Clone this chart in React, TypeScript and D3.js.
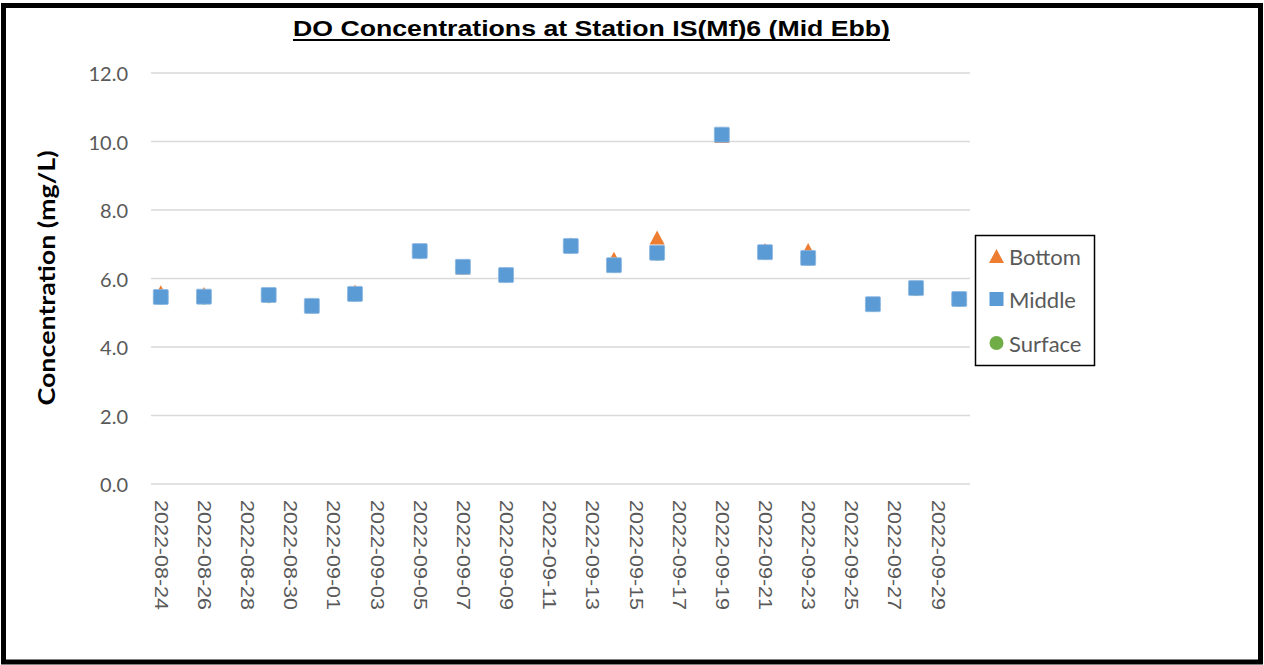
import React from "react";
import * as d3 from "d3";

const WIDTH = 1264;
const HEIGHT = 665;

const TITLE = "DO Concentrations at Station IS(Mf)6 (Mid Ebb)";
const Y_TITLE = "Concentration (mg/L)";

// sampling dates and the three depths (mg/L)
const dates = [
  "2022-08-24", "2022-08-26", "2022-08-29", "2022-08-31", "2022-09-02",
  "2022-09-05", "2022-09-07", "2022-09-09", "2022-09-12", "2022-09-14",
  "2022-09-16", "2022-09-19", "2022-09-21", "2022-09-23", "2022-09-26",
  "2022-09-28", "2022-09-30",
];
const bottom = [5.6, 5.55, 5.54, 5.22, 5.62, 6.83, 6.32, 6.13, 7.0, 6.58, 7.2, 10.16, 6.83, 6.83, 5.27, 5.75, 5.43];
const middle = [5.46, 5.47, 5.52, 5.2, 5.55, 6.8, 6.34, 6.1, 6.95, 6.39, 6.75, 10.2, 6.77, 6.6, 5.25, 5.72, 5.4];
const surface = [5.45, 5.46, 5.5, 5.2, 5.54, 6.79, 6.33, 6.1, 6.94, 6.38, 6.74, 10.19, 6.76, 6.59, 5.24, 5.71, 5.39];

const xTickLabels = [
  "2022-08-24", "2022-08-26", "2022-08-28", "2022-08-30", "2022-09-01",
  "2022-09-03", "2022-09-05", "2022-09-07", "2022-09-09", "2022-09-11",
  "2022-09-13", "2022-09-15", "2022-09-17", "2022-09-19", "2022-09-21",
  "2022-09-23", "2022-09-25", "2022-09-27", "2022-09-29",
];
const yTicks = [0, 2, 4, 6, 8, 10, 12];

const ORANGE = "#ED7D31";
const BLUE = "#5B9BD5";
const GREEN = "#70AD47";
const GREY = "#595959";

const parse = d3.utcParse("%Y-%m-%d");
const HALF_DAY = 12 * 3600 * 1000;

function triangle(cx: number, cy: number, w = 15, h = 14) {
  return `M${cx},${cy - h / 2}L${cx + w / 2},${cy + h / 2}L${cx - w / 2},${cy + h / 2}Z`;
}

export default function App() {
  const x = d3
    .scaleUtc()
    .domain([
      new Date(+parse("2022-08-24")! - HALF_DAY),
      new Date(+parse("2022-09-30")! + HALF_DAY),
    ])
    .range([150, 970]);
  const y = d3.scaleLinear().domain([0, 12]).range([484, 73]);

  const pts = dates.map((d, i) => ({
    x: x(parse(d)!),
    b: y(bottom[i]),
    m: y(middle[i]),
    s: y(surface[i]),
  }));

  const legend = [
    { name: "Bottom", yy: 256 },
    { name: "Middle", yy: 299 },
    { name: "Surface", yy: 343 },
  ];

  return (
    <div style={{ position: "absolute", left: 0, top: 0 }}>
      <svg width={WIDTH} height={HEIGHT} style={{ display: "block" }}>
        <rect x={0} y={0} width={WIDTH} height={HEIGHT} fill="#fff" />
        <rect x={3.5} y={5.5} width={1257} height={656.5} fill="none" stroke="#000" strokeWidth={5} />

        {/* title */}
        <text
          x={591.5}
          y={36}
          textAnchor="middle"
          fontFamily="'Liberation Sans', Arial, sans-serif"
          fontWeight="bold"
          fontSize={22}
          textLength={597}
          lengthAdjust="spacingAndGlyphs"
        >
          {TITLE}
        </text>
        <line x1={293} x2={890} y1={40} y2={40} stroke="#000" strokeWidth={2} />

        {/* grid */}
        {yTicks.map((t) => (
          <g key={t}>
            <line x1={151} x2={970} y1={y(t)} y2={y(t)} stroke="#d9d9d9" strokeWidth={1.5} />
            <text
              x={128}
              y={y(t)}
              textAnchor="end"
              dominantBaseline="central"
              fontFamily="Lato, 'Noto Sans', sans-serif"
              fontSize={20}
              fill={GREY}
            >
              {t.toFixed(1)}
            </text>
          </g>
        ))}

        {/* x labels */}
        {xTickLabels.map((l) => {
          const px = x(parse(l)!);
          return (
            <text
              key={l}
              transform={`translate(${px},500) rotate(90)`}
              dominantBaseline="central"
              fontFamily="'Liberation Sans', Arial, sans-serif"
              fontSize={18}
              fill={GREY}
              textLength={110}
              lengthAdjust="spacingAndGlyphs"
            >
              {l}
            </text>
          );
        })}

        {/* y title */}
        <text
          transform="translate(55,278) rotate(-90)"
          textAnchor="middle"
          fontFamily="Lato, 'Noto Sans', sans-serif"
          fontWeight="bold"
          fontSize={23}
          textLength={255}
          lengthAdjust="spacingAndGlyphs"
        >
          {Y_TITLE}
        </text>

        {/* markers: surface under, then bottom, middle on top */}
        {pts.map((p, i) => (
          <circle key={"s" + i} cx={p.x} cy={p.s} r={7.5} fill={GREEN} />
        ))}
        {pts.map((p, i) => (
          <path key={"b" + i} d={triangle(p.x, p.b)} fill={ORANGE} />
        ))}
        {pts.map((p, i) => (
          <rect
            key={"m" + i}
            x={p.x - 7.5}
            y={p.m - 7.5}
            width={15}
            height={15}
            rx={1}
            fill={BLUE}
            stroke="#8fb9e3"
            strokeWidth={0.8}
          />
        ))}

        {/* legend */}
        <rect x={975.5} y={235.5} width={119} height={130} fill="#fff" stroke="#000" strokeWidth={1.5} />
        {legend.map((l, i) => (
          <g key={l.name}>
            {i === 0 && <path d={triangle(996.5, l.yy, 15, 14)} fill={ORANGE} />}
            {i === 1 && <rect x={989.5} y={l.yy - 7} width={14} height={14} fill={BLUE} />}
            {i === 2 && <circle cx={996.5} cy={l.yy} r={7} fill={GREEN} />}
            <text
              x={1009}
              y={l.yy}
              dominantBaseline="central"
              fontFamily="Lato, 'Noto Sans', sans-serif"
              fontSize={22}
              fill={GREY}
            >
              {l.name}
            </text>
          </g>
        ))}
      </svg>
    </div>
  );
}
